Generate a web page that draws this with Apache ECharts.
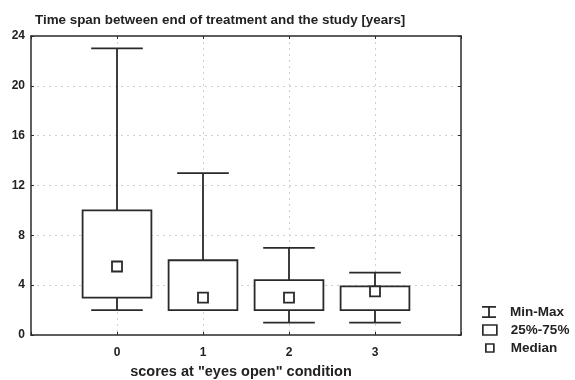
<!DOCTYPE html>
<html>
<head>
<meta charset="utf-8">
<script src="https://cdn.jsdelivr.net/npm/echarts@6/dist/echarts.min.js"></script>
<style>html,body{margin:0;padding:0;background:#fff}#c{width:575px;height:380px}</style>
</head>
<body>
<div id="c"></div>
<script>
var categories = ["0", "1", "2", "3"];
var minVals = [2, 2, 1, 1];
var q1Vals = [3, 2, 2, 2];
var medianVals = [5.5, 3, 3, 3.5];
var q3Vals = [10, 6, 4.4, 3.9];
var maxVals = [23, 13, 7, 5];
var yTicks = [0, 4, 8, 12, 16, 20, 24];

var boxData = categories.map(function (c, i) {
  return [i, minVals[i], q1Vals[i], medianVals[i], q3Vals[i], maxVals[i]];
});

var LINE = '#2a2a2a';
var FONT = 'Liberation Sans, Arial, sans-serif';

function renderBox(params, api) {
  var x = api.value(0);
  var pMin = api.coord([x, api.value(1)]);
  var pQ1 = api.coord([x, api.value(2)]);
  var pMed = api.coord([x, api.value(3)]);
  var pQ3 = api.coord([x, api.value(4)]);
  var pMax = api.coord([x, api.value(5)]);
  var unit = api.size([1, 0])[0];
  var bw = unit * 0.8, cw = unit * 0.6, ms = 10;
  var cx = pQ1[0];
  var st = { stroke: LINE, lineWidth: 1.8, fill: null };
  var children = [
    { type: 'line', shape: { x1: cx, y1: pMax[1], x2: cx, y2: pQ3[1] }, style: st },
    { type: 'line', shape: { x1: cx, y1: pQ1[1], x2: cx, y2: pMin[1] }, style: st },
    { type: 'line', shape: { x1: cx - cw / 2, y1: pMax[1], x2: cx + cw / 2, y2: pMax[1] }, style: st },
    { type: 'line', shape: { x1: cx - cw / 2, y1: pMin[1], x2: cx + cw / 2, y2: pMin[1] }, style: st },
    { type: 'rect', shape: { x: cx - bw / 2, y: pQ3[1], width: bw, height: pQ1[1] - pQ3[1] }, style: { stroke: LINE, lineWidth: 1.8, fill: '#fff' } },
    { type: 'rect', shape: { x: cx - ms / 2, y: pMed[1] - ms / 2, width: ms, height: ms }, style: { stroke: LINE, lineWidth: 1.8, fill: '#fff' } }
  ];
  return { type: 'group', children: children };
}

function legendText(pad) {
  return { fontFamily: FONT, fontWeight: 'bold', fontSize: 13.5, color: '#222', padding: [0, 0, 0, pad] };
}
var legendItemStyle = { color: 'rgba(0,0,0,0)', borderColor: LINE, borderWidth: 1.7 };

var chart = echarts.init(document.getElementById('c'), null, { renderer: 'canvas' });
chart.setOption({
  animation: false,
  backgroundColor: '#fff',
  title: {
    text: 'Time span between end of treatment and the study [years]',
    left: 30, top: 9,
    textStyle: { fontFamily: FONT, fontWeight: 'bold', fontSize: 13.4, color: '#222' }
  },
  grid: { left: 31, right: 114, top: 36, bottom: 45, outerBoundsMode: 'none', containLabel: false },
  legend: [
    { data: [{ name: 'Min-Max', icon: 'path://M0,0H14V1.8H7.9V10.2H14V12H0V10.2H6.1V1.8H0Z' }], left: 482, top: 305, padding: 0, itemWidth: 14, itemHeight: 12, textStyle: legendText(9), itemStyle: { color: LINE, borderWidth: 0 }, selectedMode: false },
    { data: [{ name: '25%-75%', icon: 'rect' }], left: 482, top: 323, padding: 0, itemWidth: 14, itemHeight: 10, textStyle: legendText(9), itemStyle: legendItemStyle, selectedMode: false },
    { data: [{ name: 'Median', icon: 'rect' }], left: 485, top: 341, padding: 0, itemWidth: 8, itemHeight: 8, textStyle: legendText(12), itemStyle: legendItemStyle, selectedMode: false }
  ],
  xAxis: [{
    type: 'value', min: -1, max: 4, interval: 1,
    name: 'scores at "eyes open" condition', nameLocation: 'middle', nameGap: 29,
    nameTextStyle: { fontFamily: FONT, fontWeight: 'bold', fontSize: 14.5, color: '#222', padding: [0, 10, 0, 0] },
    axisLine: { show: true, onZero: false, lineStyle: { color: LINE, width: 1.5 } },
    axisTick: { show: true, inside: true, length: 3, lineStyle: { color: LINE } },
    axisLabel: {
      fontFamily: FONT, fontWeight: 'bold', fontSize: 12, color: '#222', margin: 12,
      formatter: function (v) { return (v >= 0 && v < categories.length) ? categories[v] : ''; }
    },
    splitLine: { show: true, showMinLine: false, showMaxLine: false, lineStyle: { color: '#cfcfcf', type: [2, 4], width: 1 } }
  }, {
    type: 'value', position: 'top', min: -1, max: 4, interval: 1,
    axisLine: { show: true, onZero: false, lineStyle: { color: LINE, width: 1.5 } },
    axisTick: { show: true, inside: true, length: 3, lineStyle: { color: LINE } },
    axisLabel: { show: false }, splitLine: { show: false }
  }],
  yAxis: [{
    type: 'value', min: 0, max: 24, interval: 4,
    axisLine: { show: true, onZero: false, lineStyle: { color: LINE, width: 1.5 } },
    axisTick: { show: true, inside: true, length: 3, lineStyle: { color: LINE } },
    axisLabel: {
      fontFamily: FONT, fontWeight: 'bold', fontSize: 12, color: '#222', margin: 6,
      formatter: function (v) { return yTicks.indexOf(v) >= 0 ? String(v) : ''; }
    },
    splitLine: { show: true, showMinLine: false, showMaxLine: false, lineStyle: { color: '#cfcfcf', type: [2, 4], width: 1 } }
  }, {
    type: 'value', position: 'right', min: 0, max: 24, interval: 4,
    axisLine: { show: true, onZero: false, lineStyle: { color: LINE, width: 1.5 } },
    axisTick: { show: true, inside: true, length: 3, lineStyle: { color: LINE } },
    axisLabel: { show: false }, splitLine: { show: false }
  }],
  series: [
    { type: 'custom', name: 'box', renderItem: renderBox, data: boxData, encode: { x: 0, y: [1, 2, 3, 4, 5] }, z: 3 },
    { type: 'custom', name: 'Min-Max', renderItem: function () { return null; }, data: [] },
    { type: 'custom', name: '25%-75%', renderItem: function () { return null; }, data: [] },
    { type: 'custom', name: 'Median', renderItem: function () { return null; }, data: [] }
  ]
});
</script>
</body>
</html>
